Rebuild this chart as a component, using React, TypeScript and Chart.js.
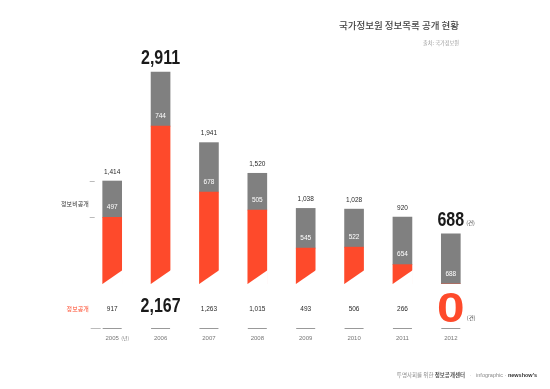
import React, { useEffect, useRef } from 'react';
import { Chart, registerables } from 'chart.js';
Chart.register(...registerables);

const years = ['2005', '2006', '2007', '2008', '2009', '2010', '2011', '2012'];
const publicCounts = [917, 2167, 1263, 1015, 493, 506, 266, 0];
const privateCounts = [497, 744, 678, 505, 545, 522, 654, 688];
const totalCounts = [1414, 2911, 1941, 1520, 1038, 1028, 920, 688];
const totalBig = [false, true, false, false, false, false, false, true];
const publicBig = [false, true, false, false, false, false, false, true];

const ORANGE = '#fe4a2b';
const GRAY = '#808080';
const NUM = '"Liberation Sans", Arial, sans-serif';
const KR = '"Noto Sans CJK KR", "Noto Sans", sans-serif';

const fmt = (v: number) => v.toLocaleString('en-US');

function narrowText(ctx: CanvasRenderingContext2D, txt: string, x: number, y: number, size: number, color: string, sx: number) {
  ctx.save();
  ctx.translate(x, y);
  ctx.scale(sx, 1);
  ctx.font = `bold ${size}px ${NUM}`;
  ctx.fillStyle = color;
  ctx.textAlign = 'center';
  ctx.textBaseline = 'alphabetic';
  ctx.fillText(txt, 0, 0);
  const w = ctx.measureText(txt).width * sx;
  ctx.restore();
  return w;
}

const labelPlugin = {
  id: 'infographicLabels',
  afterDatasetsDraw(chart: any) {
    const ctx: CanvasRenderingContext2D = chart.ctx;
    const m0 = chart.getDatasetMeta(0);
    const m1 = chart.getDatasetMeta(1);
    ctx.save();

    // slanted bottom cut of orange bars
    m0.data.forEach((el: any, i: number) => {
      if (publicCounts[i] <= 0) return;
      const { x, base, width } = el.getProps(['x', 'base', 'width'], true);
      const l = x - width / 2;
      const r = x + width / 2;
      ctx.fillStyle = '#ffffff';
      ctx.beginPath();
      ctx.moveTo(l - 1, base + 2);
      ctx.lineTo(l - 1, base + 0.5);
      ctx.lineTo(r + 1, base - 14);
      ctx.lineTo(r + 1, base + 2);
      ctx.closePath();
      ctx.fill();
    });

    m1.data.forEach((el: any, i: number) => {
      const { x, y, base } = el.getProps(['x', 'y', 'base'], true);
      // total above bar
      ctx.textAlign = 'center';
      if (totalBig[i]) {
        const w = narrowText(ctx, fmt(totalCounts[i]), x, y - 8, 20, '#1a1a1a', 0.8);
        if (i === years.length - 1) {
          ctx.font = `5.5px ${KR}`;
          ctx.fillStyle = '#444';
          ctx.textAlign = 'left';
          ctx.textBaseline = 'alphabetic';
          ctx.fillText('(건)', x + w / 2 + 2, y - 9);
        }
      } else {
        ctx.fillStyle = '#2a2a2a';
        ctx.font = `6.5px ${NUM}`;
        ctx.textBaseline = 'middle';
        ctx.fillText(fmt(totalCounts[i]), x, y - 9);
      }
      // private value inside gray
      ctx.textAlign = 'center';
      ctx.textBaseline = 'middle';
      ctx.fillStyle = '#ffffff';
      ctx.font = `6.5px ${NUM}`;
      ctx.fillText(String(privateCounts[i]), x, base - 10);

      // public value row
      if (publicBig[i] && publicCounts[i] > 0) {
        narrowText(ctx, fmt(publicCounts[i]), x, 312, 20, '#1a1a1a', 0.8);
      } else if (publicBig[i]) {
        narrowText(ctx, fmt(publicCounts[i]), x, 322, 42, ORANGE, 1.18);
        ctx.font = `5.5px ${KR}`;
        ctx.fillStyle = '#444';
        ctx.textAlign = 'left';
        ctx.textBaseline = 'middle';
        ctx.fillText('(건)', x + 16, 318);
      } else {
        ctx.fillStyle = '#2a2a2a';
        ctx.font = `6.5px ${NUM}`;
        ctx.textAlign = 'center';
        ctx.textBaseline = 'middle';
        ctx.fillText(fmt(publicCounts[i]), x, 309);
      }

      // year tick line and label
      ctx.strokeStyle = '#999';
      ctx.lineWidth = 1;
      ctx.beginPath();
      ctx.moveTo(x - 9.5, 328.5);
      ctx.lineTo(x + 9.5, 328.5);
      ctx.stroke();
      ctx.textAlign = 'center';
      ctx.textBaseline = 'middle';
      ctx.fillStyle = '#777';
      ctx.font = `6px ${NUM}`;
      ctx.fillText(years[i], x, 338);
      if (i === 0) {
        ctx.font = `5px ${KR}`;
        ctx.textAlign = 'left';
        ctx.fillText('(년)', x + 9, 338);
      }
    });

    // left annotations
    const first = m1.data[0].getProps(['x', 'y', 'base', 'width'], true);
    const left0 = first.x - first.width / 2;
    ctx.strokeStyle = '#bbb';
    ctx.lineWidth = 1;
    ctx.beginPath();
    ctx.moveTo(left0 - 13, Math.round(first.y) + 0.5);
    ctx.lineTo(left0 - 8, Math.round(first.y) + 0.5);
    ctx.moveTo(left0 - 13, Math.round(first.base) + 0.5);
    ctx.lineTo(left0 - 8, Math.round(first.base) + 0.5);
    ctx.moveTo(left0 - 12, 328.5);
    ctx.lineTo(left0 - 2, 328.5);
    ctx.stroke();

    ctx.textAlign = 'right';
    ctx.textBaseline = 'middle';
    ctx.font = `6px ${KR}`;
    ctx.fillStyle = '#333';
    ctx.fillText('정보비공개', left0 - 14, (first.y + first.base) / 2 + 5);
    ctx.fillStyle = ORANGE;
    ctx.fillText('정보공개', left0 - 14, 309);

    // title & source
    ctx.textAlign = 'right';
    ctx.textBaseline = 'middle';
    ctx.fillStyle = '#444';
    ctx.font = `500 9.5px ${KR}`;
    ctx.fillText('국가정보원 정보목록 공개 현황', 459, 25);
    ctx.fillStyle = '#9a9a9a';
    ctx.font = `5.2px ${KR}`;
    ctx.fillText('출처: 국가정보원', 459, 43);

    // footer (drawn right to left)
    const parts: [string, string, string][] = [
      ["newshow's", `bold 5.5px ${NUM}`, '#333'],
      ['infographic · ', `5.5px ${NUM}`, '#888'],
      ['   ·   ', `5.5px ${NUM}`, '#aaa'],
      ['정보공개센터', `bold 5.5px ${KR}`, '#555'],
      ['투명사회를 위한 ', `5.5px ${KR}`, '#888'],
    ];
    let fx = 537;
    ctx.textAlign = 'right';
    parts.forEach(([t, f, c]) => {
      ctx.font = f;
      ctx.fillStyle = c;
      ctx.fillText(t, fx, 375);
      fx -= ctx.measureText(t).width;
    });

    ctx.restore();
  },
};

export default function App() {
  const ref = useRef<HTMLCanvasElement | null>(null);
  useEffect(() => {
    document.body.style.margin = '0';
    if (!ref.current) return;
    const chart = new Chart(ref.current, {
      type: 'bar',
      data: {
        labels: years,
        datasets: [
          { label: '정보공개', data: publicCounts, backgroundColor: ORANGE, borderWidth: 0, barThickness: 19 },
          { label: '정보비공개', data: privateCounts, backgroundColor: GRAY, borderWidth: 0, barThickness: 19 },
        ],
      },
      options: {
        animation: false,
        responsive: false,
        devicePixelRatio: 1,
        layout: { padding: { left: 88, right: 75, top: 40, bottom: 105 } },
        plugins: { legend: { display: false }, tooltip: { enabled: false }, title: { display: false } },
        scales: {
          x: { stacked: true, display: false, offset: true, grid: { display: false } },
          y: { stacked: true, display: false, min: 0, max: 3350 },
        },
      },
      plugins: [labelPlugin],
    });
    return () => chart.destroy();
  }, []);
  return (
    <div style={{ width: 550, height: 389, background: '#fff' }}>
      <canvas ref={ref} width={550} height={389} style={{ display: 'block' }} />
    </div>
  );
}
